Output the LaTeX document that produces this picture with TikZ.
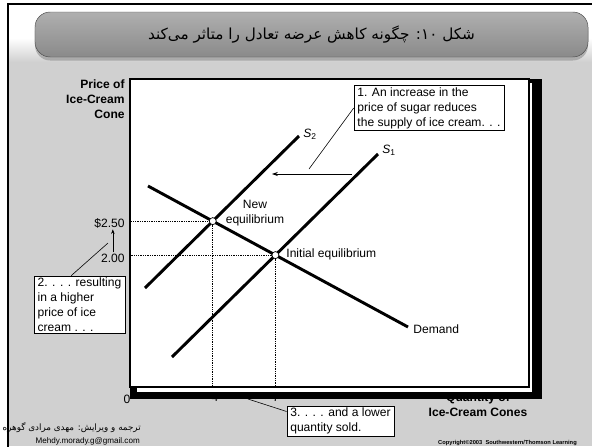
\documentclass[tikz,border=0pt]{standalone}
\usepackage{fontspec}
\setmainfont{Liberation Sans}
\newfontfamily\farsi[Script=Arabic]{DejaVu Sans}
\TeXXeTstate=1
\usetikzlibrary{arrows.meta}
\usetikzlibrary{shadows}
\definecolor{bggray}{RGB}{208,208,208}
\definecolor{bannertop}{RGB}{175,175,175}
\definecolor{bannerbot}{RGB}{138,138,138}

\begin{document}
\begin{tikzpicture}[x=0.03cm, y=-0.03cm,
    lbl/.style={font=\fontsize{10.3}{12.8}\selectfont, inner sep=1pt},
    axislbl/.style={font=\fontsize{10.3}{12.8}\selectfont\bfseries, inner sep=1pt},
    callout/.style={draw, fill=white, align=left, inner xsep=3pt, inner ysep=1.5pt, font=\fontsize{10.3}{12.8}\selectfont},
    curve/.style={line width=2.5pt},
    guide/.style={densely dotted, line width=0.5pt},
    eqdot/.style={circle, draw, fill=white, line width=0.6pt, minimum size=6pt, inner sep=0pt}]
    \useasboundingbox (0,0) rectangle (592,446);
    \clip (0,0) rectangle (592,446);
    \fill[white] (0,0) rectangle (592,446);
    \fill[bggray] (8,60) rectangle (592,446);
    \shade[top color=white, bottom color=bggray] (8,38) rectangle (592,62);
    \draw[line width=1.7pt] (8,450) |- (600,4);

    \node[draw=black!70, rounded corners=13pt, top color=bannertop, bottom color=bannerbot,
          minimum width=16.59cm, minimum height=1.35cm,
          drop shadow={shadow xshift=0pt, shadow yshift=-3pt, opacity=0.5},
          font=\farsi\fontsize{13}{15}\selectfont] (title) at (311.5,34.5)
          {\beginR شکل \beginL۱۰\endL: چگونه کاهش عرضه تعادل را متاثر می‌کند\endR};

    \node[lbl] (q0) at (127,399) {0};
    \node[lbl] (q4) at (215,397.5) {4};
    \node[lbl] (q7) at (276,397.5) {7};
    \node[axislbl, align=center] (xlabel) at (478,405) {Quantity of\\Ice-Cream Cones};

    \fill[black] (130,79) rectangle (542,399);
    \fill[white] (137,83) rectangle (532,392);
    \filldraw[fill=white, draw=black, line width=0.9pt] (130,387) rectangle (529,79);
    \coordinate (O) at (130,387);

    \node[axislbl, align=right, anchor=east] (ylabel) at (126,99) {Price of\\Ice-Cream\\Cone};

    \coordinate (da) at (148,186);
    \coordinate (db) at (408,327);
    \coordinate (s1a) at (172,357);
    \coordinate (s1b) at (378,154);
    \coordinate (s2a) at (145,288);
    \coordinate (s2b) at (299,136);
    \coordinate (neweq) at (intersection of s2a--s2b and da--db);
    \coordinate (initeq) at (intersection of s1a--s1b and da--db);

    \draw[guide] (neweq) -- (neweq -| O);
    \draw[guide] (neweq) -- (neweq |- O);
    \draw[guide] (initeq) -- (initeq -| O);
    \draw[guide] (initeq) -- (initeq |- O);

    \draw[curve] (da) -- (db);
    \draw[curve] (s1a) -- (s1b);
    \draw[curve] (s2a) -- (s2b);
    \node[eqdot] (neweqdot) at (neweq) {};
    \node[eqdot] (initeqdot) at (initeq) {};

    \node[lbl, anchor=west] (s1lbl) at (381,150) {\textit{S}\textsubscript{1}};
    \node[lbl, anchor=west] (s2lbl) at (302,134) {\textit{S}\textsubscript{2}};
    \node[lbl, anchor=west] (dlbl) at (412,329) {Demand};
    \node[lbl, align=center] (newlbl) at (255,213) {New\\equilibrium};
    \node[lbl, anchor=west] (initlbl) at (285,254) {Initial equilibrium};

    \node[lbl, anchor=east] (p250) at (126,223) {\$2.50};
    \node[lbl, anchor=east] (p200) at (126,258) {2.00};
    \draw[-{Stealth[length=4pt,width=3pt]}, line width=0.5pt] (p200.north) -- (p200.north |- p250.south);

    \coordinate (shiftR) at (352,174);
    \coordinate (shiftL) at (272,174);
    \draw[-{Stealth[length=5pt,width=3.5pt]}, line width=0.6pt] (shiftR) -- (shiftL);

    \node[callout] (c1) at (429,108) {1. An increase in the\\price of sugar reduces\\the supply of ice cream. . .};
    \node[callout] (c2) at (79.5,304.5) {2. . . . resulting\\in a higher\\price of ice\\cream . . .};
    \node[callout] (c3) at (340.5,421) {3. . . . and a lower\\quantity sold.};
    \coordinate (c1tip) at (309,169);
    \coordinate (c2tip) at (108,243);
    \coordinate (c3tip) at (248,399);
    \draw[line width=0.5pt] (c1.west) -- (c1tip);
    \draw[line width=0.5pt] ([xshift=-7pt]c2.north) -- (c2tip);
    \draw[line width=0.5pt] (c3.170) -- (c3tip);

    \node[anchor=east, inner sep=0pt, font=\farsi\fontsize{7.5}{9}\selectfont] (credit) at (141,428)
          {\beginR ترجمه و ویرایش: مهدی مرادی گوهره\endR};
    \node[anchor=east, inner sep=0pt, font=\fontsize{6.9}{8}\selectfont] (mail) at (140,441) {Mehdy.morady.g@gmail.com};
    \node[anchor=west, inner sep=0pt, font=\fontsize{4.9}{6}\selectfont\bfseries] (copy) at (438,443)
          {Copyright©2003\ \ Southwestern/Thomson Learning};
\end{tikzpicture}
\end{document}
